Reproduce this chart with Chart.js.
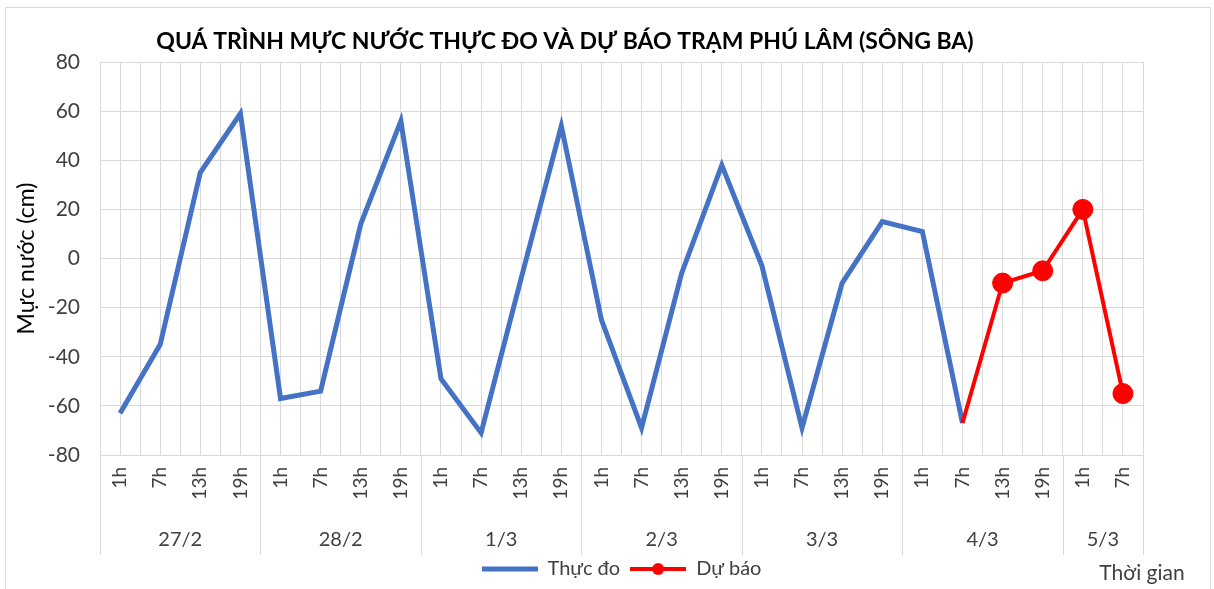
<!DOCTYPE html>
<html>
<head>
<meta charset="utf-8">
<script src="https://cdn.jsdelivr.net/npm/chart.js@4.4.1/dist/chart.umd.min.js"></script>
<style>
  html, body { margin: 0; padding: 0; background: #fff; }
  canvas { display: block; }
</style>
</head>
<body>
<canvas id="chart" width="1214" height="589"></canvas>
<script>
var chartTitle = 'QUÁ TRÌNH MỰC NƯỚC THỰC ĐO VÀ DỰ BÁO TRẠM PHÚ LÂM (SÔNG BA)';
var yTitle = 'Mực nước (cm)';
var xTitle = 'Thời gian';

var hourLabels = [
  '1h', '7h', '13h', '19h',
  '1h', '7h', '13h', '19h',
  '1h', '7h', '13h', '19h',
  '1h', '7h', '13h', '19h',
  '1h', '7h', '13h', '19h',
  '1h', '7h', '13h', '19h',
  '1h', '7h'
];
var dayLabels = ['27/2', '28/2', '1/3', '2/3', '3/3', '4/3', '5/3'];
var daySizes = [4, 4, 4, 4, 4, 4, 2];

// muc nuoc thuc do (cm)
var observed = [
  -63, -35, 35, 59,
  -57, -54, 14, 56,
  -49, -71, -8, 54,
  -25, -69, -6, 38,
  -3, -69, -10, 15,
  11, -67, null, null,
  null, null
];
// du bao (cm)
var forecast = [
  null, null, null, null,
  null, null, null, null,
  null, null, null, null,
  null, null, null, null,
  null, null, null, null,
  null, -67, -10, -5,
  20, -55
];

var FONT = 'Lato, "Open Sans", sans-serif';
var TEXT = '#404040';
var GRID = '#d9d9d9';

function legendSwatch(color, width, dot) {
  var c = document.createElement('canvas');
  c.width = 56;
  c.height = 20;
  var g = c.getContext('2d');
  g.strokeStyle = color;
  g.lineWidth = width;
  g.beginPath();
  g.moveTo(0, 10);
  g.lineTo(56, 10);
  g.stroke();
  if (dot) {
    g.fillStyle = color;
    g.beginPath();
    g.arc(28, 10, 6, 0, Math.PI * 2);
    g.fill();
  }
  return c;
}

var swatches = [legendSwatch('#4472C4', 5, false), legendSwatch('#FF0000', 4, true)];

var extras = {
  id: 'extras',
  beforeDraw: function (chart) {
    var ctx = chart.ctx;
    ctx.save();
    ctx.fillStyle = '#fff';
    ctx.fillRect(0, 0, chart.width, chart.height);
    ctx.restore();
  },
  afterDraw: function (chart) {
    var ctx = chart.ctx;
    var area = chart.chartArea;
    var xg = chart.scales.xg;
    ctx.save();

    // khung ngoai
    ctx.strokeStyle = GRID;
    ctx.lineWidth = 1;
    ctx.strokeRect(5.5, 7.5, 1205, 600);

    // tieu de
    ctx.fillStyle = '#000';
    ctx.font = 'bold 23px ' + FONT;
    ctx.textAlign = 'center';
    ctx.textBaseline = 'middle';
    ctx.fillText(chartTitle, 565, 42);

    // nhom ngay
    var start = 0;
    ctx.strokeStyle = GRID;
    ctx.beginPath();
    var x0 = Math.round(xg.getPixelForValue(0)) + 0.5;
    ctx.moveTo(x0, area.bottom);
    ctx.lineTo(x0, 555);
    ctx.font = '20px ' + FONT;
    ctx.fillStyle = TEXT;
    for (var i = 0; i < dayLabels.length; i++) {
      var end = start + daySizes[i];
      var xe = Math.round(xg.getPixelForValue(end * 2)) + 0.5;
      ctx.moveTo(xe, area.bottom);
      ctx.lineTo(xe, 555);
      ctx.fillText(dayLabels[i], xg.getPixelForValue(start + end), 540);
      start = end;
    }
    ctx.stroke();

    ctx.font = '21px ' + FONT;
    ctx.fillText(xTitle, 1142, 573);
    ctx.restore();
  }
};

new Chart(document.getElementById('chart'), {
  type: 'line',
  data: {
    labels: hourLabels,
    datasets: [
      {
        label: 'Thực đo',
        data: observed,
        borderColor: '#4472C4',
        backgroundColor: '#4472C4',
        borderWidth: 5,
        pointRadius: 0,
        pointHoverRadius: 0,
        fill: false,
        order: 2
      },
      {
        label: 'Dự báo',
        data: forecast,
        borderColor: '#FF0000',
        backgroundColor: '#FF0000',
        borderWidth: 4,
        pointRadius: forecast.map(function (v, i) { return i === 21 ? 0 : 10; }),
        pointBackgroundColor: '#FF0000',
        pointBorderColor: '#FF0000',
        pointBorderWidth: 1,
        fill: false,
        order: 1
      }
    ]
  },
  options: {
    responsive: false,
    animation: false,
    devicePixelRatio: 1,
    layout: { padding: { top: 62, right: 71, left: 0, bottom: 0 } },
    plugins: {
      title: { display: false },
      tooltip: { enabled: false },
      legend: {
        position: 'bottom',
        fullSize: false,
        labels: {
          usePointStyle: true,
          pointStyleWidth: 56,
          color: TEXT,
          font: { family: FONT, size: 20 },
          padding: 10,
          sort: function (a, b) { return a.datasetIndex - b.datasetIndex; },
          generateLabels: function (chart) {
            var items = Chart.defaults.plugins.legend.labels.generateLabels(chart);
            items.forEach(function (it) { it.pointStyle = swatches[it.datasetIndex]; });
            return items;
          }
        }
      }
    },
    scales: {
      x: {
        type: 'category',
        position: 'bottom',
        offset: true,
        grid: { display: false, drawTicks: false },
        border: { display: false },
        ticks: {
          autoSkip: false,
          maxRotation: 90,
          minRotation: 90,
          padding: 12,
          color: TEXT,
          font: { family: FONT, size: 19 }
        },
        afterFit: function (scale) { scale.height = 94; }
      },
      xg: {
        type: 'linear',
        position: 'top',
        min: 0,
        max: 52,
        grid: { color: GRID, drawTicks: false },
        border: { display: false },
        ticks: { display: false, stepSize: 1, maxTicksLimit: 100 }
      },
      y: {
        min: -80,
        max: 80,
        grid: { color: GRID, drawTicks: false },
        border: { display: false },
        ticks: {
          stepSize: 20,
          padding: 20,
          color: TEXT,
          font: { family: FONT, size: 21 }
        },
        title: {
          display: true,
          text: yTitle,
          color: '#000',
          font: { family: FONT, size: 23 },
          padding: { top: 13, bottom: 0 }
        },
        afterFit: function (scale) { scale.width = 100; }
      }
    }
  },
  plugins: [extras]
});
</script>
</body>
</html>
